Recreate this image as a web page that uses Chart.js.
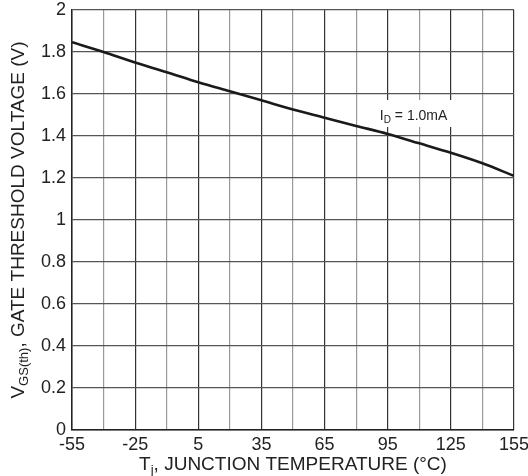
<!DOCTYPE html>
<html>
<head>
<meta charset="utf-8">
<script src="https://cdn.jsdelivr.net/npm/chart.js@4.4.1/dist/chart.umd.min.js"></script>
<style>
  html, body { margin: 0; padding: 0; background: #fff; }
  #wrap { width: 528px; height: 476px; }
</style>
</head>
<body>
<div id="wrap"><canvas id="vgsChart" width="528" height="476"></canvas></div>
<script>
// junction temperature (°C) and gate threshold voltage (V)
const temps = [-55, -40, -25, -10, 5, 20, 35, 50, 65, 80, 95, 110, 125, 140, 155];
const vgsValues = [1.847, 1.80, 1.75, 1.704, 1.656, 1.613, 1.57, 1.526, 1.487, 1.448, 1.41, 1.365, 1.32, 1.27, 1.21];
const xLabelTicks = [-55, -25, 5, 35, 65, 95, 125, 155];

const FONT = "'Liberation Sans', Arial, sans-serif";

// draws text pieces with optional subscripts
function drawRich(ctx, parts, x, y, align) {
    let total = 0;
    parts.forEach(p => {
        ctx.font = p.size + "px " + FONT;
        total += ctx.measureText(p.t).width;
    });
    let cx = align === "center" ? x - total / 2 : x;
    parts.forEach(p => {
        ctx.font = p.size + "px " + FONT;
        ctx.fillText(p.t, cx, y + (p.dy || 0));
        cx += ctx.measureText(p.t).width;
    });
}

const labelsPlugin = {
    id: "labels",
    beforeDatasetsDraw(chart) {
        // current annotation, under the curve
        const { ctx, scales } = chart;
        const ax = scales.x.getPixelForValue(96);
        const ay = scales.y.getPixelForValue(1.5);
        ctx.save();
        ctx.fillStyle = "#fff";
        ctx.fillRect(ax - 14, ay - 15, 80, 27);
        ctx.fillStyle = "#222";
        ctx.textBaseline = "alphabetic";
        ctx.textAlign = "left";
        drawRich(ctx, [
            { t: "I", size: 14 },
            { t: "D", size: 10, dy: 3 },
            { t: " = 1.0mA", size: 14 }
        ], ax - 10, ay + 5, "left");
        ctx.restore();
    },
    afterDraw(chart) {
        const { ctx, chartArea } = chart;
        ctx.save();
        ctx.fillStyle = "#222";
        ctx.textBaseline = "alphabetic";
        ctx.textAlign = "left";

        // x title
        drawRich(ctx, [
            { t: "T", size: 19 },
            { t: "j", size: 13, dy: 4 },
            { t: ", JUNCTION TEMPERATURE (°C)", size: 19 }
        ], (chartArea.left + chartArea.right) / 2, 470, "center");

        // y title
        ctx.save();
        ctx.translate(24, (chartArea.top + chartArea.bottom) / 2);
        ctx.rotate(-Math.PI / 2);
        drawRich(ctx, [
            { t: "V", size: 19 },
            { t: "GS(th)", size: 13, dy: 4 },
            { t: ", GATE THRESHOLD VOLTAGE (V)", size: 19 }
        ], 0, 0, "center");
        ctx.restore();
        ctx.restore();
    }
};

new Chart(document.getElementById("vgsChart"), {
    type: "line",
    data: {
        labels: temps,
        datasets: [{
            data: temps.map((t, i) => ({ x: t, y: vgsValues[i] })),
            borderColor: "#1a1a1a",
            borderWidth: 2.6,
            pointRadius: 0,
            cubicInterpolationMode: "monotone",
            fill: false
        }]
    },
    options: {
        responsive: false,
        animation: false,
        layout: { padding: { top: 10, right: 14, left: 0, bottom: 0 } },
        plugins: { legend: { display: false }, tooltip: { enabled: false } },
        scales: {
            x: {
                type: "linear",
                min: -55,
                max: 155,
                afterFit: s => { s.height = 46; s.paddingLeft = 0; s.paddingRight = 0; },
                afterBuildTicks: s => { s.ticks = temps.map(v => ({ value: v })); },
                border: { color: "#222", width: 1.5 },
                grid: {
                    drawTicks: false,
                    lineWidth: 1.2,
                    color: c => xLabelTicks.includes(c.tick.value) ? "#333" : "#999"
                },
                ticks: {
                    padding: 4,
                    autoSkip: false,
                    maxRotation: 0,
                    color: "#222",
                    font: { family: FONT, size: 18 },
                    callback: v => xLabelTicks.includes(v) ? String(v) : ""
                }
            },
            y: {
                min: 0,
                max: 2,
                afterFit: s => { s.width = 72; s.paddingTop = 0; s.paddingBottom = 0; },
                border: { color: "#222", width: 1.5 },
                grid: { drawTicks: false, color: "#555", lineWidth: 1.2 },
                ticks: {
                    stepSize: 0.2,
                    padding: 6,
                    color: "#222",
                    font: { family: FONT, size: 18 },
                    callback: v => String(+v.toFixed(1))
                }
            }
        }
    },
    plugins: [labelsPlugin]
});
</script>
</body>
</html>
